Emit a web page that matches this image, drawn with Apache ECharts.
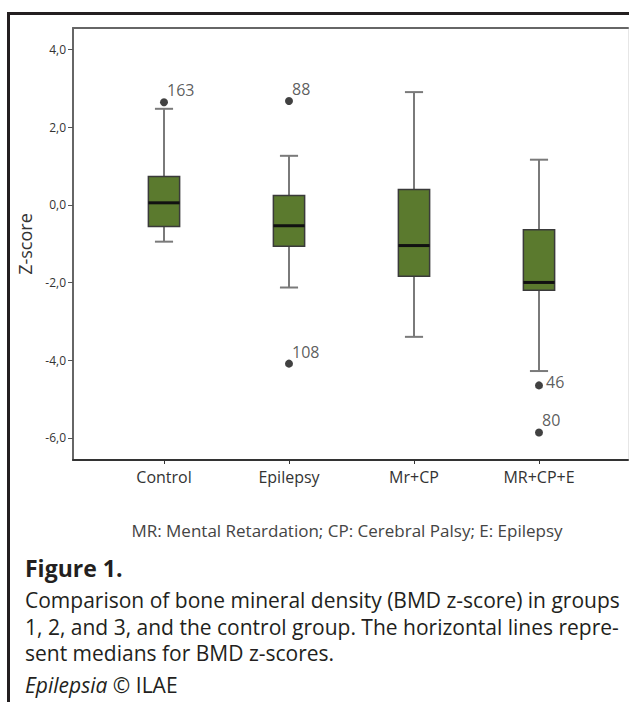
<!DOCTYPE html>
<html>
<head>
<meta charset="utf-8">
<script src="https://cdn.jsdelivr.net/npm/echarts@6/dist/echarts.min.js"></script>
<style>
  html, body { margin: 0; padding: 0; background: #fff; }
  #main { width: 629px; height: 702px; }
</style>
</head>
<body>
<div id="main"></div>
<script>
// groups on the x axis
var categories = ['Control', 'Epilepsy', 'Mr+CP', 'MR+CP+E'];
// box plot statistics (z-score)
var whiskerLow  = [-0.95, -2.13, -3.40, -4.28];
var q1          = [-0.56, -1.07, -1.84, -2.20];
var median      = [ 0.05, -0.54, -1.05, -2.00];
var q3          = [ 0.73,  0.24,  0.39, -0.64];
var whiskerHigh = [ 2.47,  1.26,  2.90,  1.16];
// outliers: group index (1-based), value, case number
var outlierGroup = [1, 2, 2, 4, 4];
var outlierValue = [2.64, 2.67, -4.09, -4.65, -5.86];
var outlierCase  = ['163', '88', '108', '46', '80'];
// y axis ticks
var yTicks = [-6, -4, -2, 0, 2, 4];

var font = '"Open Sans"';

var boxData = categories.map(function (c, i) {
    return [i + 1, whiskerLow[i], q1[i], median[i], q3[i], whiskerHigh[i]];
});
var outlierData = outlierValue.map(function (v, i) {
    var item = { value: [outlierGroup[i], v], name: outlierCase[i] };
    // case 46 sits right under a whisker cap, its number is put lower
    if (outlierCase[i] === '46') item.label = { offset: [-2, -3] };
    return item;
});

function renderBox(params, api) {
    var x = api.value(0);
    var lo = api.coord([x, api.value(1)]);
    var b1 = api.coord([x, api.value(2)]);
    var md = api.coord([x, api.value(3)]);
    var b3 = api.coord([x, api.value(4)]);
    var hi = api.coord([x, api.value(5)]);
    var boxW = api.size([0.25, 0])[0];
    var capW = api.size([0.145, 0])[0];
    var cx = lo[0];
    var whisk = { stroke: '#7a7a7a', lineWidth: 2 };
    return {
        type: 'group',
        children: [
            { type: 'line', shape: { x1: cx, y1: hi[1], x2: cx, y2: b3[1] }, style: whisk },
            { type: 'line', shape: { x1: cx, y1: b1[1], x2: cx, y2: lo[1] }, style: whisk },
            { type: 'line', shape: { x1: cx - capW / 2, y1: hi[1], x2: cx + capW / 2, y2: hi[1] }, style: whisk },
            { type: 'line', shape: { x1: cx - capW / 2, y1: lo[1], x2: cx + capW / 2, y2: lo[1] }, style: whisk },
            { type: 'rect', shape: { x: cx - boxW / 2, y: b3[1], width: boxW, height: b1[1] - b3[1] },
              style: { fill: '#5b7a2e', stroke: '#3a3a3a', lineWidth: 1.5 } },
            { type: 'line', shape: { x1: cx - boxW / 2, y1: md[1], x2: cx + boxW / 2, y2: md[1] },
              style: { stroke: '#111', lineWidth: 3 } }
        ]
    };
}

var chart = echarts.init(document.getElementById('main'), null, { renderer: 'svg' });
var option = {
    backgroundColor: '#fff',
    animation: false,
    grid: { left: 73, top: 28, right: 1, bottom: 242, containLabel: false },
    xAxis: [{
        type: 'value',
        min: 0.272,
        max: 4.712,
        splitLine: { show: false },
        axisLine: { onZero: false, lineStyle: { color: '#333', width: 2 } },
        axisTick: { customValues: [1, 2, 3, 4], length: 4, lineStyle: { color: '#333' } },
        axisLabel: {
            customValues: [1, 2, 3, 4],
            margin: 9,
            color: '#333',
            fontSize: 16,
            fontFamily: font,
            formatter: function (v) { return categories[Math.round(v) - 1]; }
        }
    }, {
        type: 'value',
        position: 'top',
        min: 0.272,
        max: 4.712,
        splitLine: { show: false },
        axisLine: { show: true, onZero: false, lineStyle: { color: '#666', width: 2 } },
        axisTick: { show: false },
        axisLabel: { show: false }
    }],
    yAxis: [{
        type: 'value',
        min: -6.57,
        max: 4.55,
        name: 'Z-score',
        nameLocation: 'middle',
        nameGap: 38,
        nameTextStyle: { color: '#333', fontSize: 18, fontFamily: font },
        splitLine: { show: false },
        axisLine: { show: true, onZero: false, lineStyle: { color: '#666', width: 2 } },
        axisTick: { show: true, customValues: yTicks, length: 5, lineStyle: { color: '#555' } },
        axisLabel: {
            customValues: yTicks,
            margin: 7,
            color: '#333',
            fontSize: 12,
            fontFamily: font,
            formatter: function (v) { return v.toFixed(1).replace('.', ','); }
        }
    }, {
        type: 'value',
        position: 'right',
        min: -6.57,
        max: 4.55,
        splitLine: { show: false },
        axisLine: { show: true, onZero: false, lineStyle: { color: '#e6e6e6', width: 1 } },
        axisTick: { show: false },
        axisLabel: { show: false }
    }],
    series: [{
        type: 'custom',
        renderItem: renderBox,
        encode: { x: 0, y: [1, 2, 3, 4, 5] },
        data: boxData,
        z: 2
    }, {
        type: 'scatter',
        symbolSize: 8,
        itemStyle: { color: '#111' },
        data: outlierData,
        z: 3,
        label: {
            show: true,
            position: 'right',
            offset: [-6, -12],
            color: '#333',
            fontSize: 16,
            fontFamily: font,
            formatter: function (p) { return p.name; }
        }
    }],
    graphic: [{
        type: 'rect',
        shape: { x: 8.5, y: 13.5, width: 660, height: 760 },
        style: { fill: 'none', stroke: '#231f20', lineWidth: 3 },
        silent: true
    }, {
        type: 'text',
        x: 347, y: 530,
        style: {
            text: 'MR: Mental Retardation; CP: Cerebral Palsy; E: Epilepsy',
            fill: '#444', font: '17px ' + font, align: 'center', verticalAlign: 'middle'
        }
    }, {
        type: 'text',
        x: 25, y: 568,
        style: {
            text: 'Figure 1.',
            fill: '#231f20', font: 'bold 23px ' + font, verticalAlign: 'middle'
        }
    }, {
        type: 'text',
        x: 25, y: 600,
        style: {
            text: 'Comparison of bone mineral density (BMD z-score) in groups',
            fill: '#231f20', font: '21px ' + font, verticalAlign: 'middle'
        }
    }, {
        type: 'text',
        x: 25, y: 627,
        style: {
            text: '1, 2, and 3, and the control group. The horizontal lines repre-',
            fill: '#231f20', font: '21px ' + font, verticalAlign: 'middle'
        }
    }, {
        type: 'text',
        x: 25, y: 653,
        style: {
            text: 'sent medians for BMD z-scores.',
            fill: '#231f20', font: '21px ' + font, verticalAlign: 'middle'
        }
    }, {
        type: 'text',
        x: 25, y: 685,
        style: {
            text: '{i|Epilepsia} \u00A9 ILAE',
            fill: '#231f20', font: '21px ' + font, verticalAlign: 'middle',
            rich: { i: { fontStyle: 'italic', fontSize: 21, fontFamily: 'Open Sans', fill: '#231f20' } }
        }
    }]
};
chart.setOption(option);
</script>
</body>
</html>
